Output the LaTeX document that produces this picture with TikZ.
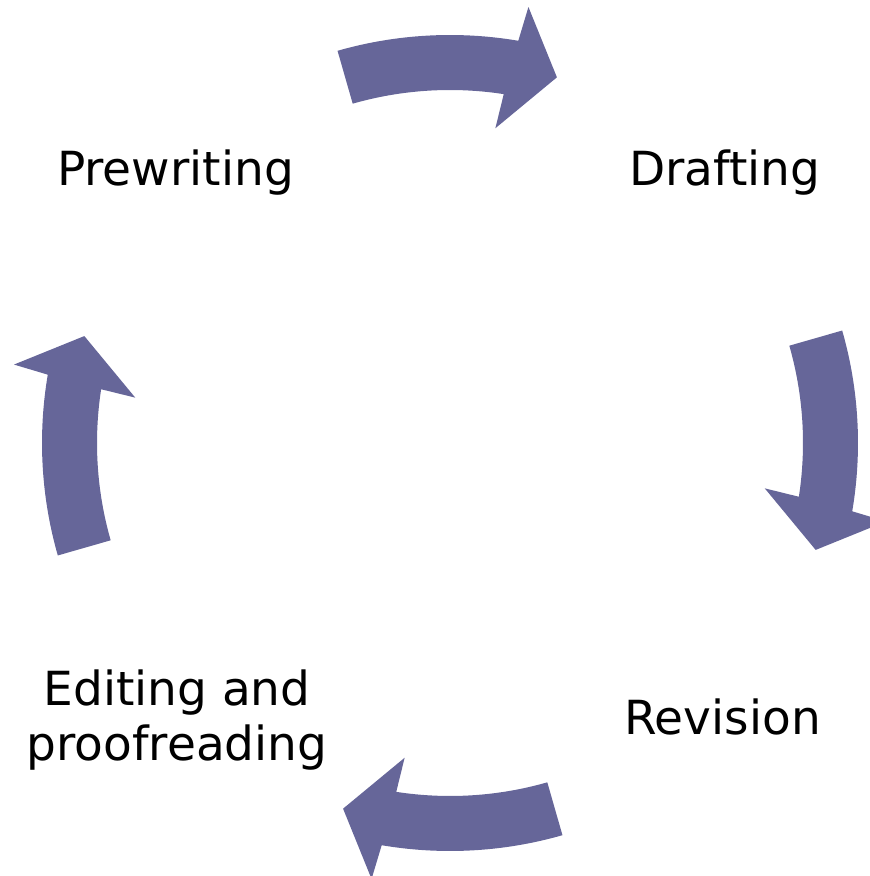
\documentclass[tikz,border=0pt]{standalone}
\usepackage{fontspec}
\setmainfont{DejaVu Sans}
\usepackage{xcolor}
\usepackage{tikz}
\definecolor{arrowblue}{RGB}{102,102,153}

\begin{document}
\begin{tikzpicture}[x=1pt,y=1pt,
    stage/.style={font=\fontsize{47}{55}\selectfont, inner sep=0pt, align=center},
    cyclearrow/.style={fill=arrowblue, shift={(450,433)}}]
      \path[use as bounding box] (0,0) rectangle (870,876); % page size

      \node[stage, anchor=base] (prewriting) at (175.5,690.5) {Prewriting};
      \node[stage, anchor=base] (drafting) at (725,690.5) {Drafting};
      \node[stage, anchor=base] (revision) at (722.5,141.5) {Revision};
      \node[stage] (editing) at (177,155.5) {Editing and\\proofreading};

      \path [cyclearrow] (106:408) arc[start angle=106, end angle=80.36, radius=408] -- (79.8:443) -- (73.7:381) -- (81.8:318) -- (81.24:353) arc[start angle=81.24, end angle=106, radius=353] -- cycle;
      \path [cyclearrow, rotate=-90] (106:408) arc[start angle=106, end angle=80.36, radius=408] -- (79.8:443) -- (73.7:381) -- (81.8:318) -- (81.24:353) arc[start angle=81.24, end angle=106, radius=353] -- cycle;
      \path [cyclearrow, rotate=-180] (106:408) arc[start angle=106, end angle=80.36, radius=408] -- (79.8:443) -- (73.7:381) -- (81.8:318) -- (81.24:353) arc[start angle=81.24, end angle=106, radius=353] -- cycle;
      \path [cyclearrow, rotate=-270] (106:408) arc[start angle=106, end angle=80.36, radius=408] -- (79.8:443) -- (73.7:381) -- (81.8:318) -- (81.24:353) arc[start angle=81.24, end angle=106, radius=353] -- cycle;
\end{tikzpicture}
\end{document}
